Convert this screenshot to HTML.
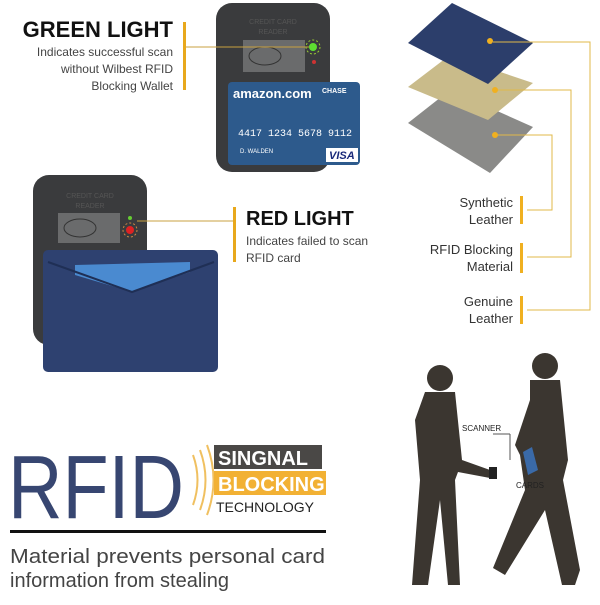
<!DOCTYPE html><html><head><style>body{margin:0;width:600px;height:600px;background:#fff;overflow:hidden}</style></head><body>
<svg width="600" height="600" viewBox="0 0 600 600" xmlns="http://www.w3.org/2000/svg" font-family="Liberation Sans, sans-serif">
<rect width="600" height="600" fill="#fff"/>
<text x="173" y="37" font-size="22" font-weight="bold" text-anchor="end" fill="#111">GREEN LIGHT</text>
<text x="173" y="56" font-size="12" text-anchor="end" fill="#444">Indicates successful scan</text>
<text x="173" y="73" font-size="12" text-anchor="end" fill="#444">without Wilbest RFID</text>
<text x="173" y="90" font-size="12" text-anchor="end" fill="#444">Blocking Wallet</text>
<rect x="183" y="22" width="3" height="68" fill="#e8a81c"/>
<rect x="216" y="3" width="114" height="169" rx="16" fill="#3a3b3d"/>
<text x="273" y="24" font-size="7" text-anchor="middle" fill="#555">CREDIT CARD</text>
<text x="273" y="34" font-size="7" text-anchor="middle" fill="#555">READER</text>
<rect x="243" y="40" width="62" height="32" fill="#6a6b6c"/>
<ellipse cx="265" cy="56" rx="16" ry="9" fill="none" stroke="#333"/>
<line x1="186" y1="47" x2="310" y2="47" stroke="#c8a040" stroke-width="1"/>
<circle cx="313" cy="47" r="4" fill="#5ee030"/><circle cx="313" cy="47" r="7" fill="none" stroke="#9c3" stroke-dasharray="2 2"/>
<circle cx="314" cy="62" r="2" fill="#c33"/>
<rect x="228" y="82" width="132" height="83" rx="4" fill="#2d5a8c"/>
<text x="233" y="98" font-size="13" font-weight="bold" fill="#fff">amazon.com</text>
<text x="322" y="93" font-size="7" font-weight="bold" fill="#fff">CHASE</text>
<text x="238" y="136" font-size="10" font-family="Liberation Mono, monospace" fill="#fff">4417 1234 5678 9112</text>
<text x="240" y="153" font-size="6" fill="#fff">D. WALDEN</text>
<rect x="326" y="148" width="32" height="14" fill="#fff"/><text x="329" y="159" font-size="11" font-weight="bold" font-style="italic" fill="#1a2a7a">VISA</text>
<rect x="33" y="175" width="114" height="170" rx="16" fill="#3a3b3d"/>
<text x="90" y="198" font-size="7" text-anchor="middle" fill="#555">CREDIT CARD</text>
<text x="90" y="208" font-size="7" text-anchor="middle" fill="#555">READER</text>
<rect x="58" y="213" width="62" height="30" fill="#6a6b6c"/>
<ellipse cx="80" cy="228" rx="16" ry="9" fill="none" stroke="#333"/>
<circle cx="130" cy="218" r="2" fill="#6c3"/>
<circle cx="130" cy="230" r="4" fill="#d22"/><circle cx="130" cy="230" r="7" fill="none" stroke="#c84" stroke-dasharray="2 2"/>
<line x1="137" y1="221" x2="233" y2="221" stroke="#c8a040"/>
<rect x="233" y="207" width="3" height="55" fill="#e8a81c"/>
<text x="246" y="225" font-size="20" font-weight="bold" fill="#111">RED LIGHT</text>
<text x="246" y="245" font-size="12" fill="#444">Indicates failed to scan</text>
<text x="246" y="262" font-size="12" fill="#444">RFID card</text>
<rect x="43" y="250" width="175" height="122" rx="5" fill="#2e4170"/>
<polygon points="75,265 190,262 190,272 132,292 75,275" fill="#4a8ad0"/>
<path d="M48,262 L132,292 L214,262" fill="none" stroke="#1f2f55" stroke-width="2"/>
<polygon points="408,123 450,90 533,127 490,173" fill="#8a8a88"/>
<polygon points="408,87 450,55 533,83 488,120" fill="#c9bb8a"/>
<polygon points="408,43 452,3 533,43 488,84" fill="#2c3e6b"/>
<g fill="none" stroke="#e0b84a" stroke-width="1">
<polyline points="493,42 590,42 590,310 527,310"/>
<polyline points="495,90 571,90 571,257 527,257"/>
<polyline points="495,135 552,135 552,210 527,210"/>
</g>
<circle cx="490" cy="41" r="3" fill="#f0b020"/><circle cx="495" cy="90" r="3" fill="#f0b020"/><circle cx="495" cy="135" r="3" fill="#f0b020"/>
<g fill="#f0b020"><rect x="520" y="196" width="3" height="28"/><rect x="520" y="243" width="3" height="30"/><rect x="520" y="296" width="3" height="28"/></g>
<g font-size="13" fill="#333" text-anchor="end">
<text x="513" y="207">Synthetic</text><text x="513" y="224">Leather</text>
<text x="513" y="254">RFID Blocking</text><text x="513" y="271">Material</text>
<text x="513" y="306">Genuine</text><text x="513" y="323">Leather</text></g>
<g fill="#3b3630">
<circle cx="440" cy="378" r="13"/>
<path d="M425,392 L455,392 L462,460 L490,470 L490,478 L458,472 L455,480 L460,585 L448,585 L440,500 L428,585 L412,585 L420,480 L415,420 Z"/>
<circle cx="545" cy="366" r="13"/>
<path d="M530,380 L560,380 L568,460 L563,480 L580,570 L575,585 L562,585 L545,510 L505,575 L493,568 L525,490 L520,455 L515,445 L530,400 Z"/>
</g>
<rect x="489" y="467" width="8" height="12" fill="#222"/>
<polygon points="523,452 532,447 538,470 528,475" fill="#3a6aa8"/>
<text x="462" y="431" font-size="8" fill="#222">SCANNER</text>
<text x="516" y="488" font-size="8" fill="#222">CARDS</text>
<line x1="493" y1="434" x2="510" y2="434" stroke="#555"/><line x1="510" y1="434" x2="510" y2="460" stroke="#555"/>
<text x="8" y="518" font-size="90" fill="#374671" textLength="176" lengthAdjust="spacingAndGlyphs">RFID</text>
<g fill="none" stroke="#f0c060" stroke-width="2"><path d="M193,455 Q202,480 193,505"/><path d="M200,450 Q211,480 200,510"/><path d="M207,445 Q220,480 207,515"/></g>
<rect x="214" y="445" width="108" height="24" fill="#4a4846"/>
<text x="218" y="465" font-size="20" font-weight="bold" fill="#fff">SINGNAL</text>
<rect x="214" y="471" width="112" height="24" fill="#f2b134"/>
<text x="218" y="491" font-size="20" font-weight="bold" fill="#fff">BLOCKING</text>
<text x="216" y="512" font-size="14" fill="#222">TECHNOLOGY</text>
<rect x="10" y="530" width="316" height="3" fill="#111"/>
<text x="10" y="563" font-size="20" fill="#444" textLength="315" lengthAdjust="spacingAndGlyphs">Material prevents personal card</text>
<text x="10" y="587" font-size="20" fill="#444">information from stealing</text>
</svg></body></html>
